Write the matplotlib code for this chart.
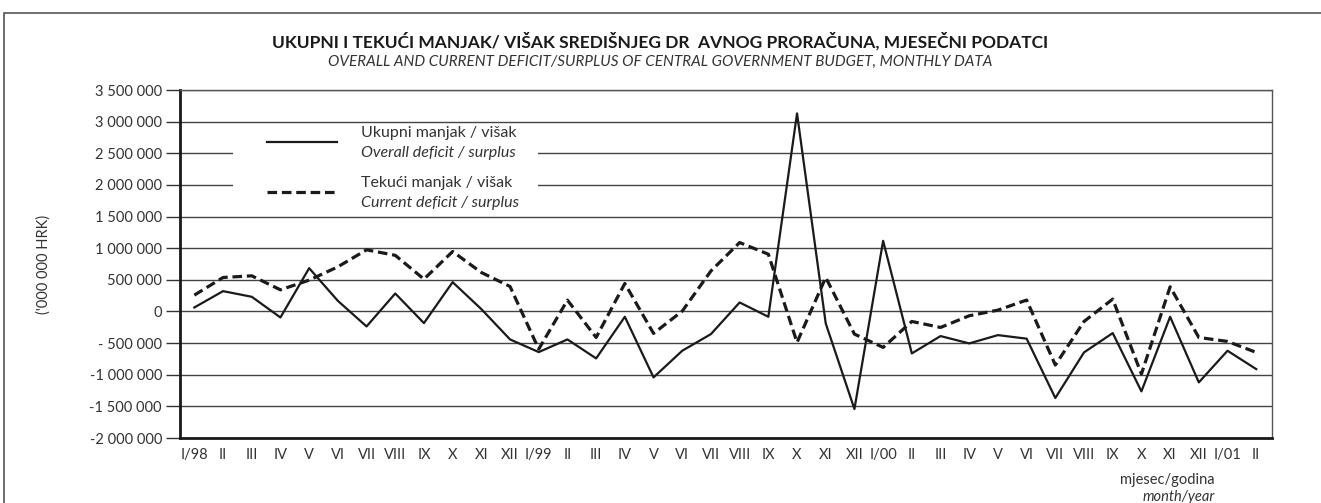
import matplotlib
matplotlib.use("Agg")
import matplotlib.pyplot as plt
from matplotlib.patches import Rectangle
from matplotlib.lines import Line2D

plt.rcParams['font.family'] = ['Lato', 'DejaVu Sans']

# months: I/98 .. II/01
months = ['I/98', 'II', 'III', 'IV', 'V', 'VI', 'VII', 'VIII', 'IX', 'X', 'XI', 'XII',
          'I/99', 'II', 'III', 'IV', 'V', 'VI', 'VII', 'VIII', 'IX', 'X', 'XI', 'XII',
          'I/00', 'II', 'III', 'IV', 'V', 'VI', 'VII', 'VIII', 'IX', 'X', 'XI', 'XII',
          'I/01', 'II']

# overall deficit / surplus ('000 HRK)
overall = [63000, 321000, 232000, -95000, 684000, 168000, -237000, 284000, -184000, 463000,
           37000, -442000, -642000, -442000, -742000, -84000, -1042000, -621000, -358000,
           142000, -84000, 3130000, -189000, -1542000, 1116000, -663000, -389000, -505000,
           -374000, -430000, -1368000, -647000, -342000, -1263000, -84000, -1121000,
           -621000, -911000]

# current deficit / surplus
current = [258000, 537000, 563000, 342000, 495000, 705000, 974000, 887000, 511000, 947000,
           616000, 395000, -595000, 179000, -411000, 442000, -347000, 5000, 640000,
           1089000, 905000, -489000, 537000, -358000, -568000, -158000, -253000, -68000,
           21000, 180000, -847000, -158000, 195000, -989000, 389000, -411000, -474000,
           -647000]

y_ticks = [-2000000, -1500000, -1000000, -500000, 0, 500000, 1000000, 1500000,
           2000000, 2500000, 3000000, 3500000]
y_ticklabels = ['-2 000 000', '-1 500 000', '-1 000 000', '- 500 000', '0', '500 000',
                '1 000 000', '1 500 000', '2 000 000', '2 500 000', '3 000 000', '3 500 000']

fig = plt.figure(figsize=(13.21, 5.03), dpi=100)

# outer frame of the page box
fig.patches.append(Rectangle((4 / 1321, -0.1), 1.2, 1.1 - 13 / 503, transform=fig.transFigure,
                             fill=False, edgecolor='#555555', linewidth=1.2))

ax = fig.add_axes([180 / 1321, 65 / 503, 1092 / 1321, 348 / 503])
x = list(range(len(months)))

ax.plot(x, overall, color='#1a1a1a', linewidth=1.6, zorder=3)
ax.plot(x, current, color='#1a1a1a', linewidth=2.3, linestyle=(0, (3, 1.5)), zorder=3)

ax.set_xlim(-0.5, 37.55)
ax.set_ylim(-2000000, 3500000)
ax.set_yticks(y_ticks)
ax.set_yticklabels(y_ticklabels, fontsize=10.5, color='#333333')
ax.set_xticks(x)
ax.set_xticklabels(months, fontsize=10.5, color='#333333')
ax.tick_params(axis='x', length=0, pad=7)
ax.tick_params(axis='y', length=10, width=1, color='#333333', pad=3)

ax.set_axisbelow(True)
ax.grid(True, axis='y', color='#444444', linewidth=1)
for s in ['left', 'bottom']:
    ax.spines[s].set_linewidth(2)
    ax.spines[s].set_color('#1a1a1a')
for s in ['top', 'right']:
    ax.spines[s].set_linewidth(1)
    ax.spines[s].set_color('#555555')

ax.set_ylabel("('000 000 HRK)", fontsize=10.5, color='#333333')
ax.yaxis.set_label_coords(-0.118, 0.5)

# legend with white box over the grid
ax.add_patch(Rectangle((0.0485, 0.641), 0.279, 0.258, transform=ax.transAxes,
                       facecolor='white', edgecolor='none', zorder=1))
ax.add_line(Line2D([0.08, 0.144], [0.8506, 0.8506], transform=ax.transAxes,
                   color='#1a1a1a', linewidth=1.6, zorder=4))
ax.add_line(Line2D([0.08, 0.144], [0.7069, 0.7069], transform=ax.transAxes,
                   color='#1a1a1a', linewidth=2.3, linestyle=(0, (3, 1.5)), zorder=4))
ax.text(0.1658, 0.876, 'Ukupni manjak / višak', transform=ax.transAxes, fontsize=11.5,
        color='#333333', va='center')
ax.text(0.1658, 0.819, 'Overall deficit / surplus', transform=ax.transAxes, fontsize=11.5,
        color='#333333', va='center', style='italic')
ax.text(0.1658, 0.733, 'Tekući manjak / višak', transform=ax.transAxes, fontsize=11.5,
        color='#333333', va='center')
ax.text(0.1658, 0.675, 'Current deficit / surplus', transform=ax.transAxes, fontsize=11.5,
        color='#333333', va='center', style='italic')

fig.text(660 / 1321, 1 - 41 / 503,
         'UKUPNI I TEKUĆI MANJAK/ VIŠAK SREDIŠNJEG DR  AVNOG PRORAČUNA, MJESEČNI PODATCI',
         ha='center', va='center', fontsize=12.5, fontweight='bold', color='#1a1a1a')
fig.text(660 / 1321, 1 - 62 / 503,
         'OVERALL AND CURRENT DEFICIT/SURPLUS OF CENTRAL GOVERNMENT BUDGET, MONTHLY DATA',
         ha='center', va='center', fontsize=11, style='italic', color='#333333')

fig.text(1120 / 1321, 1 - 480 / 503, 'mjesec/godina', ha='left', va='center',
         fontsize=10.5, color='#333333')
fig.text(1215 / 1321, 1 - 497 / 503, 'month/year', ha='right', va='center',
         fontsize=10.5, style='italic', color='#333333')

fig.savefig('out.png', dpi=100)
